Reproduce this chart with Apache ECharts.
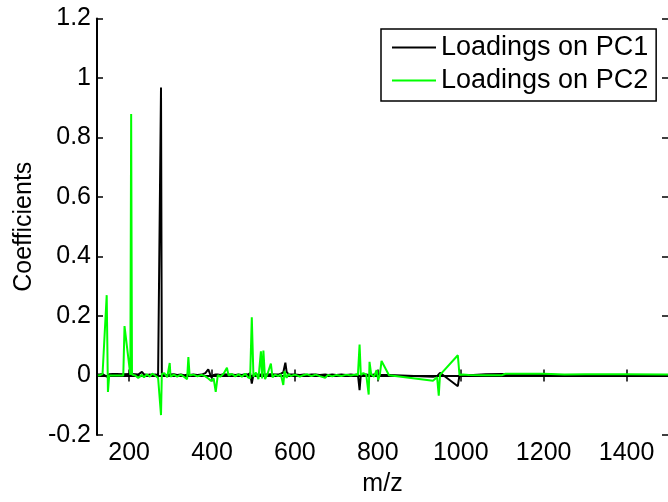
<!DOCTYPE html>
<html>
<head>
<meta charset="utf-8">
<script src="https://cdn.jsdelivr.net/npm/echarts@6/dist/echarts.min.js"></script>
<style>
html,body{margin:0;padding:0;background:#fff;}
#c{width:668px;height:502px;}
</style>
</head>
<body>
<div id="c"></div>
<script>
// m/z positions shared by both loadings
const mz = [125,131,136,146,149,152,160,170,186,189,203,205,207,215,222,231,236,243,250,256,263,270,277,279,285,292,298,300,308,316,325,333,340,343,346,355,365,375,384,391,395,398,404,409,414,420,428,436,440,448,456,464,472,480,487,492,496,500,506,512,518,521,524,528,534,542,546,552,560,566,572,575,577,580,585,590,600,612,622,630,640,650,660,673,680,690,700,712,724,735,745,752,756,759,765,772,778,780,784,791,797,801,805,809,827,933,943,947,950,993,997,1005,1020,1060,1100,1108,1200,1250,1300,1400,1500];
const pc1 = [0.003,0.004,0.005,-0.004,-0.008,0.004,0.005,0.005,0.004,0.004,0.005,0.005,0.006,0.004,0.003,0.012,0.004,0.002,0.003,0.002,0.003,0.002,0.968,0.004,0.002,0.002,0.003,0.003,0.004,0.002,0.003,0.001,0.003,0.003,0.002,0.003,0.002,0.003,0.008,0.021,0.006,-0.006,0.002,0.003,0.003,0.002,0.004,0.003,0.002,0.003,0.002,0.003,0.002,0.004,0.003,0.008,-0.027,0.003,0.004,0.002,0.003,0.004,0.003,0.003,0.003,0.004,0.002,0.003,0.003,0.006,0.010,0.030,0.043,0.012,0.004,0.003,0.003,0.002,0.003,0.002,0.003,0.003,0.002,0.003,0.002,0.003,0.002,0.003,0.002,0.003,0.002,0.004,-0.049,0.003,0.002,0.003,0.002,0.003,0.002,0.003,0.003,0.003,0.002,0.003,0.002,-0.004,-0.002,0.004,0.009,-0.036,0.001,0.002,0.001,0.004,0.005,0.003,0.003,0.001,0.001,-0.001,-0.002];
const pc2 = [0.000,0.002,0.005,0.270,-0.055,0.000,0.000,0.000,0.000,0.166,0.002,0.879,0.003,0.000,-0.008,0.002,-0.006,0.004,-0.004,0.006,0.000,-0.008,-0.133,0.005,0.008,-0.006,0.042,-0.004,0.003,-0.004,0.003,-0.005,-0.012,0.062,0.000,0.003,-0.003,0.002,-0.003,-0.010,-0.014,-0.018,-0.010,-0.055,0.001,-0.004,0.006,0.026,0.000,0.005,-0.003,0.004,-0.004,0.006,-0.006,-0.010,0.196,-0.004,0.010,-0.012,0.081,-0.010,0.084,-0.012,0.006,0.040,-0.006,0.003,-0.002,0.004,-0.032,0.015,0.020,-0.008,0.005,-0.002,0.003,-0.004,0.002,0.004,-0.002,0.003,-0.002,-0.008,0.002,-0.003,0.002,-0.002,0.003,0.000,0.003,0.002,0.104,0.002,0.008,0.003,-0.064,0.046,0.004,-0.004,0.018,-0.015,0.004,0.049,0.001,-0.018,-0.006,-0.068,0.002,0.068,0.002,0.003,0.002,0.001,0.001,0.006,0.006,0.003,0.004,0.004,0.003];
const seriesNames = ['Loadings on PC1','Loadings on PC2'];
const xTicks = [200,400,600,800,1000,1200,1400];
const xTickLabels = ['200','400','600','800','1000','1200','1400'];
const yTickLabels = ['-0.2','0','0.2','0.4','0.6','0.8','1','1.2'];
const xName = 'm/z';
const yName = 'Coefficients';

const FONT = '"Liberation Sans", Arial, sans-serif';
const pairs = a => mz.map((m,i)=>[m,a[i]]);
const axisLine = {show:true, lineStyle:{color:'#000', width:2}};
const chart = echarts.init(document.getElementById('c'), null, {renderer:'canvas'});
chart.setOption({
  animation:false,
  backgroundColor:'#fff',
  grid:{left:97, right:-4, top:18.5, bottom:65, containLabel:false},
  legend:{
    orient:'vertical', left:381, top:29,
    data:seriesNames,
    icon:'rect', itemWidth:44, itemHeight:2, itemGap:2,
    padding:[3,8,5,11],
    borderColor:'#000', borderWidth:1.5, backgroundColor:'#fff',
    textStyle:{fontFamily:FONT, fontSize:27, color:'#000', lineHeight:31},
    selectedMode:false
  },
  xAxis:[{
    type:'value', min:122.6, max:1500, position:'bottom',
    name:xName, nameLocation:'middle', nameGap:37,
    nameTextStyle:{fontFamily:FONT, fontSize:25, color:'#000'},
    axisLine:axisLine,
    axisTick:{show:true, inside:true, length:6, customValues:xTicks, lineStyle:{color:'#000',width:1.5}},
    axisLabel:{show:true, customValues:xTicks, margin:6, fontFamily:FONT, fontSize:25, color:'#000',
      formatter:(v)=>{const i=xTicks.indexOf(Math.round(v)); return i>=0?xTickLabels[i]:'';}},
    splitLine:{show:false}
  },{
    type:'value', min:122.6, max:1500, position:'top',
    axisLine:axisLine,
    axisTick:{show:true, inside:true, length:6, customValues:xTicks, lineStyle:{color:'#000',width:1.5}},
    axisLabel:{show:false},
    splitLine:{show:false}
  }],
  yAxis:[{
    type:'value', min:-0.2, max:1.2, interval:0.2, position:'left',
    name:yName, nameLocation:'middle', nameGap:60, nameRotate:90,
    nameTextStyle:{fontFamily:FONT, fontSize:25, color:'#000'},
    axisLine:axisLine,
    axisTick:{show:true, inside:true, length:6, lineStyle:{color:'#000',width:1.5}},
    axisLabel:{show:true, margin:6, fontFamily:FONT, fontSize:25, color:'#000',
      formatter:(v)=>{const i=Math.round((v+0.2)/0.2); return yTickLabels[i]!==undefined?yTickLabels[i]:'';}},
    splitLine:{show:false}
  },{
    type:'value', min:-0.2, max:1.2, interval:0.2, position:'right',
    axisLine:{show:false},
    axisTick:{show:true, inside:true, length:6, lineStyle:{color:'#000',width:1.5}},
    axisLabel:{show:false},
    splitLine:{show:false}
  }],
  series:[{
    name:seriesNames[0], type:'line', data:pairs(pc1), xAxisIndex:0, yAxisIndex:0,
    showSymbol:false, symbol:'none', color:'#000000',
    lineStyle:{color:'#000000', width:2}, z:2
  },{
    name:seriesNames[1], type:'line', data:pairs(pc2), xAxisIndex:0, yAxisIndex:0,
    showSymbol:false, symbol:'none', color:'#00ff00',
    lineStyle:{color:'#00ff00', width:2}, z:3
  }]
});
</script>
</body>
</html>
